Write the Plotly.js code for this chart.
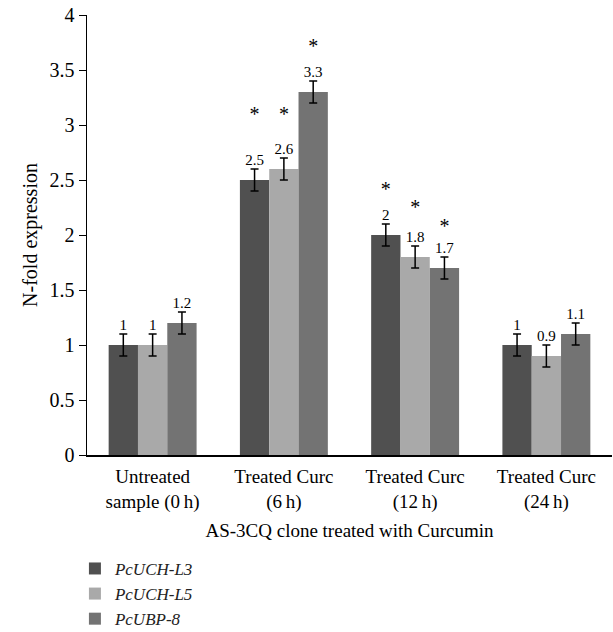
<!DOCTYPE html>
<html>
<head>
<meta charset="utf-8">
<script src="https://cdn.plot.ly/plotly-3.0.1.min.js"></script>
<style>html,body{margin:0;padding:0;background:#fff;}#chart{width:613px;height:632px;}</style>
</head>
<body>
<div id="chart"></div>
<script>
const categories = ["Untreated<br>sample (0\u2009h)", "Treated Curc<br>(6\u2009h)", "Treated Curc<br>(12\u2009h)", "Treated Curc<br>(24\u2009h)"];
const seriesNames = ["PcUCH-L3", "PcUCH-L5", "PcUBP-8"];
const uchL3 = [1, 2.5, 2, 1];
const uchL5 = [1, 2.6, 1.8, 0.9];
const ubp8 = [1.2, 3.3, 1.7, 1.1];
const errL3 = [0.1, 0.1, 0.1, 0.1];
const errL5 = [0.1, 0.1, 0.1, 0.1];
const errUbp = [0.1, 0.1, 0.1, 0.1];
const starL3 = [null, 3.08, 2.4, null];
const starL5 = [null, 3.08, 2.24, null];
const starUbp = [null, 3.7, 2.06, null];
const colors = ["#505050", "#a9a9a9", "#737373"];

const values = [uchL3, uchL5, ubp8];
const errs = [errL3, errL5, errUbp];
const stars = [starL3, starL5, starUbp];
const groups = ["a", "b", "c"];
const serif = "Liberation Serif, Times New Roman, serif";

const traces = [];
values.forEach((v, i) => {
  traces.push({
    type: "bar", x: categories, y: v, name: seriesNames[i],
    offsetgroup: groups[i], alignmentgroup: "g",
    marker: {color: colors[i], line: {width: 0}},
    error_y: {type: "data", array: errs[i], visible: true, color: "#000", thickness: 1.5, width: 4},
    hoverinfo: "skip"
  });
});
values.forEach((v, i) => {
  traces.push({
    type: "scatter", mode: "text", x: categories,
    y: v.map((d, k) => d + errs[i][k]),
    text: v.map(d => String(d)), textposition: "top center",
    textfont: {family: serif, size: 15, color: "#000"},
    offsetgroup: groups[i], alignmentgroup: "g",
    showlegend: false, hoverinfo: "skip", cliponaxis: false
  });
});
stars.forEach((s, i) => {
  traces.push({
    type: "scatter", mode: "text", x: categories, y: s,
    text: s.map(d => d === null ? "" : "*"), textposition: "middle center",
    textfont: {family: serif, size: 20, color: "#000"},
    offsetgroup: groups[i], alignmentgroup: "g",
    showlegend: false, hoverinfo: "skip", cliponaxis: false
  });
});

const layout = {
  width: 613, height: 632,
  margin: {l: 87, r: 1, t: 15, b: 177, autoexpand: false},
  paper_bgcolor: "#fff", plot_bgcolor: "#fff",
  barmode: "group", bargap: 0.33, bargroupgap: 0,
  scattermode: "group", scattergap: 0.33,
  font: {family: serif, color: "#000"},
  showlegend: true,
  legend: {
    x: -0.023, xanchor: "left", y: -0.218, yanchor: "top",
    orientation: "v", traceorder: "normal",
    font: {family: serif, size: 17, style: "italic", color: "#222"},
    tracegroupgap: 0, itemwidth: 30, bgcolor: "rgba(0,0,0,0)"
  },
  xaxis: {
    type: "category", showgrid: false, zeroline: false,
    showline: true, linecolor: "#000", linewidth: 1.5,
    ticks: "", ticklabelstandoff: 4, tickfont: {family: serif, size: 19, color: "#000"},
    title: {text: "AS-3CQ clone treated with Curcumin", font: {family: serif, size: 19, color: "#000"}, standoff: 11},
    fixedrange: true
  },
  yaxis: {
    range: [0, 4], dtick: 0.5, tick0: 0, showgrid: false, zeroline: false,
    showline: true, linecolor: "#000", linewidth: 1.5,
    ticks: "outside", ticklen: 7, tickcolor: "#000", tickwidth: 1,
    tickfont: {family: serif, size: 20, color: "#000"},
    title: {text: "N-fold expression", font: {family: serif, size: 20, color: "#000"}},
    fixedrange: true
  }
};

Plotly.newPlot("chart", traces, layout, {staticPlot: true, displayModeBar: false});
</script>
</body>
</html>
